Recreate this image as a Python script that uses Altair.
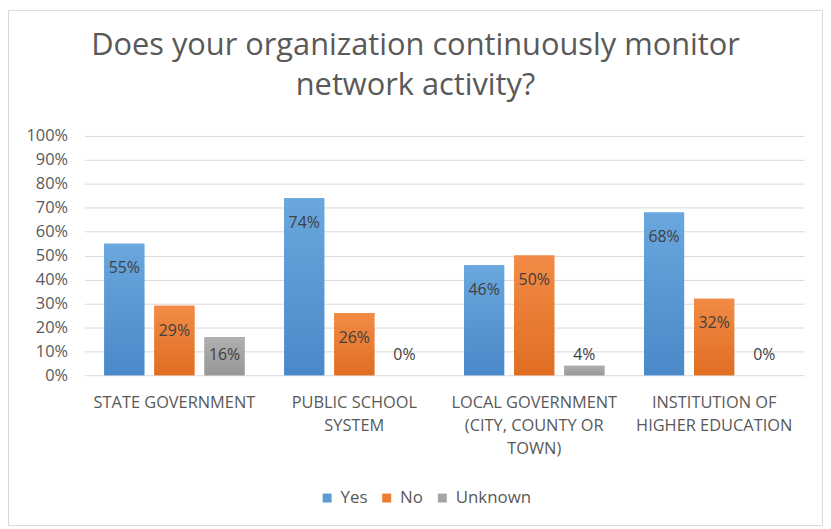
import json
import altair as alt
import pandas as pd

categories = [
    "STATE GOVERNMENT",
    "PUBLIC SCHOOL SYSTEM",
    "LOCAL GOVERNMENT (CITY, COUNTY OR TOWN)",
    "INSTITUTION OF HIGHER EDUCATION",
]
category_lines = [
    ["STATE GOVERNMENT"],
    ["PUBLIC SCHOOL", "SYSTEM"],
    ["LOCAL GOVERNMENT", "(CITY, COUNTY OR", "TOWN)"],
    ["INSTITUTION OF", "HIGHER EDUCATION"],
]
series = ["Yes", "No", "Unknown"]
yes_values = [0.55, 0.74, 0.46, 0.68]
no_values = [0.29, 0.26, 0.50, 0.32]
unknown_values = [0.16, 0.00, 0.04, 0.00]
colors = ["#5B9BD5", "#ED7D31", "#A5A5A5"]
gradient_stops = [("#6AA7DE", "#4A89C9"), ("#F28B46", "#E06E22"), ("#B0B0B0", "#979797")]
title_lines = ["Does your organization continuously monitor", "network activity?"]
y_ticks = [0, 0.1, 0.2, 0.3, 0.4, 0.5, 0.6, 0.7, 0.8, 0.9, 1.0]

FONT = "Open Sans"
TEXT_GRAY = "#595959"

rows = []
for i, c in enumerate(categories):
    for s, vals in zip(series, [yes_values, no_values, unknown_values]):
        rows.append({"category": c, "series": s, "value": vals[i]})
df = pd.DataFrame(rows)

label_expr = "".join(
    f"datum.value == {json.dumps(c)} ? {json.dumps(lines)} : "
    for c, lines in zip(categories, category_lines)
) + "datum.label"

x_enc = alt.X(
    "category:N",
    sort=categories,
    scale=alt.Scale(paddingInner=0.22, paddingOuter=0.11),
    axis=alt.Axis(
        title=None, labelAngle=0, labelExpr=label_expr, labelFontSize=16.5,
        labelColor=TEXT_GRAY, labelPadding=20, ticks=False, domain=False,
        labelLineHeight=23, labelBaseline="top", labelFont=FONT, labelLimit=300,
    ),
)
xoff_enc = alt.XOffset(
    "series:N", sort=series,
    scale=alt.Scale(domain=series, paddingInner=0.2, paddingOuter=0),
)
y_scale = alt.Scale(domain=[0, 1])
y_axis = alt.Axis(
    values=y_ticks, format="%", title=None, labelFontSize=16.5,
    labelColor=TEXT_GRAY, labelPadding=17, ticks=False, domain=False,
    gridColor="#d9d9d9", gridWidth=1, labelFont=FONT, labelOverlap=False,
)

base = alt.Chart(df)

bars = base.mark_bar().encode(
    x=x_enc,
    xOffset=xoff_enc,
    y=alt.Y("value:Q", scale=y_scale, axis=y_axis),
    color=alt.Color(
        "series:N", sort=series,
        scale=alt.Scale(domain=series, range=colors),
        legend=alt.Legend(
            orient="none", legendX=236, legendY=356, direction="horizontal",
            title=None, symbolType="square", symbolSize=81, labelFontSize=17,
            labelColor=TEXT_GRAY, columnPadding=10, labelOffset=5,
            symbolStrokeWidth=0, labelFont=FONT,
        ),
    ),
)

grad_layers = []
for s, (top, bottom) in zip(series, gradient_stops):
    grad_layers.append(
        base.transform_filter(alt.datum.series == s).mark_bar(
            fill=alt.Gradient(
                gradient="linear",
                stops=[alt.GradientStop(color=top, offset=0), alt.GradientStop(color=bottom, offset=1)],
                x1=0, x2=0, y1=0, y2=1,
            )
        ).encode(x=x_enc, xOffset=xoff_enc, y=alt.Y("value:Q", scale=y_scale, axis=y_axis))
    )

labels = base.transform_calculate(
    label_y="max(datum.value - 0.104, 0.083)"
).mark_text(fontSize=16, color="#404040", baseline="middle", font=FONT).encode(
    x=x_enc,
    xOffset=xoff_enc,
    y=alt.Y("label_y:Q", scale=y_scale, axis=y_axis),
    text=alt.Text("value:Q", format=".0%"),
)

frame = alt.Chart(alt.Data(values=[{}])).mark_rect(
    fillOpacity=0, stroke="#d9d9d9", strokeWidth=1
).encode(
    x=alt.value(-76.5), x2=alt.value(743.5), y=alt.value(-126.5), y2=alt.value(392.5)
)

chart = alt.layer(frame, bars, *grad_layers, labels).properties(
    width=725,
    height=241,
    autosize=alt.AutoSizeParams(type="none"),
    padding={"left": 77, "top": 127, "right": 19, "bottom": 152},
    title=alt.TitleParams(
        text=title_lines, fontSize=31, font=FONT, color=TEXT_GRAY,
        fontWeight="normal", anchor="middle", frame="bounds", offset=0,
        dy=93, lineHeight=41,
    ),
).configure_view(stroke=None)

chart.save("out.html", embed_options={"renderer": "svg", "actions": False})
